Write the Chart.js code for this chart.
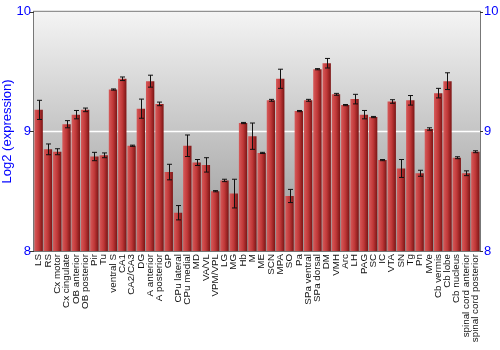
<!DOCTYPE html>
<html><head><meta charset="utf-8">
<script src="https://cdn.jsdelivr.net/npm/chart.js@4/dist/chart.umd.min.js"></script>
<style>html,body{margin:0;padding:0;background:#fff}</style>
</head><body>
<canvas id="c" width="500" height="350"></canvas>
<script>
const categories = ["LS","RS","Cx motor","Cx cingulate","OB anterior","OB posterior","Pir","Tu","ventral S","CA1","CA2/CA3","DG","A anterior","A posterior","GP","CPu lateral","CPu medial","MD","VA/VL","VPM/VPL","LG","MG","Hb","M","ME","SCN","MPA","SO","Pa","SPa ventral","SPa dorsal","DM","VMH","Arc","LH","PAG","SC","IC","VTA","SN","Tg","Pn","MVe","Cb vermis","Cb lobe","Cb nucleus","spinal cord anterior","spinal cord posterior"];
const values = [9.18,8.85,8.83,9.06,9.14,9.18,8.79,8.80,9.35,9.44,8.88,9.19,9.42,9.23,8.66,8.32,8.88,8.74,8.72,8.50,8.59,8.48,9.07,8.96,8.82,9.26,9.44,8.46,9.17,9.26,9.52,9.57,9.31,9.22,9.27,9.14,9.12,8.76,9.25,8.69,9.26,8.65,9.02,9.32,9.42,8.78,8.65,8.83];
const errors = [0.08,0.045,0.025,0.03,0.035,0.015,0.035,0.02,0.005,0.015,0.005,0.08,0.05,0.015,0.065,0.06,0.09,0.025,0.06,0.005,0.01,0.12,0.005,0.11,0.005,0.008,0.08,0.055,0.005,0.008,0.005,0.04,0.008,0.005,0.04,0.035,0.005,0.005,0.015,0.075,0.04,0.025,0.01,0.04,0.07,0.008,0.02,0.008];
const yTicks = [8,9,10];
const yTitle = "Log2 (expression)";

const bgPlugin = {
  id:'bg',
  beforeDatasetsDraw(chart){
    const {ctx, chartArea:a} = chart;
    const g = ctx.createLinearGradient(0,a.top,0,a.bottom);
    g.addColorStop(0,'#f4f4f4');
    g.addColorStop(1,'#969696');
    ctx.save();
    ctx.fillStyle = g;
    ctx.fillRect(a.left,a.top,a.right-a.left,a.bottom-a.top);
    const y9 = chart.scales.y.getPixelForValue(9);
    ctx.strokeStyle = '#ffffff';
    ctx.lineWidth = 1.5;
    ctx.beginPath(); ctx.moveTo(a.left,y9); ctx.lineTo(a.right,y9); ctx.stroke();
    ctx.restore();
  },
  afterDatasetsDraw(chart){
    const {ctx, chartArea:a} = chart;
    const xs = chart.scales.x, ys = chart.scales.y;
    ctx.save();
    ctx.strokeStyle = '#111';
    ctx.lineWidth = 1;
    values.forEach((v,i)=>{
      const x = Math.round(xs.getPixelForValue(i))+0.5;
      const t = ys.getPixelForValue(v+errors[i]);
      const b = ys.getPixelForValue(v-errors[i]);
      ctx.beginPath();
      ctx.moveTo(x,t); ctx.lineTo(x,b);
      ctx.moveTo(x-2.5,t); ctx.lineTo(x+2.5,t);
      ctx.moveTo(x-2.5,b); ctx.lineTo(x+2.5,b);
      ctx.stroke();
    });
    ctx.strokeStyle = '#777';
    ctx.lineWidth = 1;
    ctx.strokeRect(a.left-0.5,a.top-0.5,a.right-a.left+1,a.bottom-a.top+1);
    ctx.strokeStyle = '#333';
    ctx.beginPath();
    yTicks.forEach(v=>{
      const y = Math.round(ys.getPixelForValue(v))+0.5;
      ctx.moveTo(a.left-4,y); ctx.lineTo(a.left,y);
      ctx.moveTo(a.right,y); ctx.lineTo(a.right+3,y);
    });
    ctx.stroke();
    ctx.restore();
  }
};

new Chart(document.getElementById('c'),{
  type:'bar',
  data:{labels:categories,datasets:[{
    data:values,
    backgroundColor:(c)=>{
      const chart=c.chart; const xs=chart.scales&&chart.scales.x;
      if(!xs || c.dataIndex===undefined || !chart.chartArea) return '#b33333';
      const cx = xs.getPixelForValue(c.dataIndex);
      const g = chart.ctx.createLinearGradient(cx-4,0,cx+4,0);
      g.addColorStop(0,'#d65858');
      g.addColorStop(0.5,'#c03838');
      g.addColorStop(1,'#7e1616');
      return g;
    },
    borderWidth:0,
    categoryPercentage:0.9,
    barPercentage:1.0
  }]},
  options:{
    responsive:false,
    animation:false,
    layout:{padding:{top:9,left:0,right:0,bottom:0}},
    plugins:{legend:{display:false},tooltip:{enabled:false}},
    scales:{
      x:{
        grid:{display:false,drawTicks:false},
        border:{display:false},
        ticks:{autoSkip:false,maxRotation:90,minRotation:90,color:'#111',padding:3,
          font:{family:'Liberation Sans, Arial, sans-serif',size:9.8}},
        afterFit(s){s.height=99;}
      },
      y:{
        position:'left',min:8,max:10,
        grid:{display:false,drawTicks:false},
        border:{display:false},
        afterBuildTicks(s){s.ticks=yTicks.map(v=>({value:v}));},
        ticks:{color:'#0000ff',padding:3,font:{family:'Liberation Sans, Arial, sans-serif',size:13}},
        title:{display:true,text:yTitle,color:'#0000ff',padding:0,font:{family:'Liberation Sans, Arial, sans-serif',size:13}},
        afterFit(s){s.width=34;}
      },
      y2:{
        position:'right',min:8,max:10,
        grid:{display:false,drawTicks:false},
        border:{display:false},
        afterBuildTicks(s){s.ticks=yTicks.map(v=>({value:v}));},
        ticks:{color:'#0000ff',padding:4,font:{family:'Liberation Sans, Arial, sans-serif',size:13}},
        afterFit(s){s.width=20;}
      }
    }
  },
  plugins:[bgPlugin]
});
</script>
</body></html>
